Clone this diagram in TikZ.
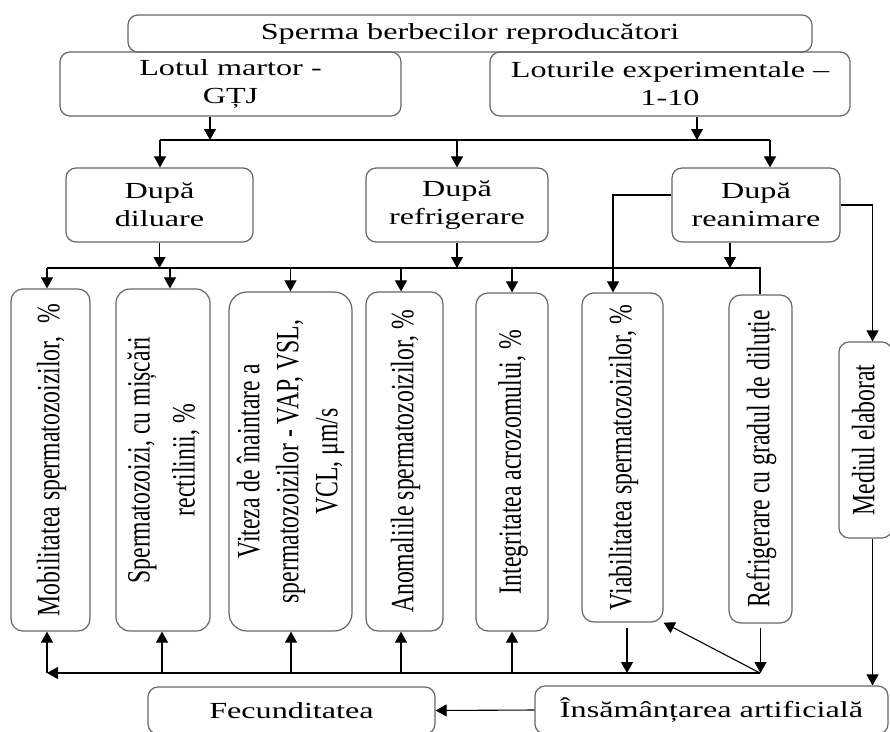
\documentclass[tikz,border=0pt]{standalone}
\usepackage{fontspec}
\usetikzlibrary{arrows.meta}
\newfontfamily\hf[FakeStretch=1.4]{Liberation Serif}
\newfontfamily\vf[FakeStretch=0.73]{Liberation Serif}
\newcommand{\vtext}[2][44]{\rotatebox{90}{\vf\fontsize{32.5}{#1}\selectfont\begin{tabular}{@{}c@{}}#2\end{tabular}}}
\tikzset{
  box/.style={draw=black!60, line width=1.2pt, rounded corners=10pt, inner sep=0pt, align=center,
    font=\hf\fontsize{23}{28}\selectfont},
  conn/.style={line width=1.1pt, black},
  arr/.style={conn, -{Triangle[width=12pt,length=11pt]}},
}
\begin{document}
\begin{tikzpicture}[x=1pt,y=-1pt]
\useasboundingbox (0,0) rectangle (890,731);
% top boxes
\node[box, minimum width=684pt, minimum height=37pt] (top) at (470,33.5) {Sperma berbecilor reproducători};
\node[box, minimum width=341pt, minimum height=64pt] (lm) at (230.5,84) {Lotul martor -\\GȚJ};
\node[box, minimum width=360pt, minimum height=64pt] (le) at (670,84) {Loturile experimentale –\\1-10};
\node[box, minimum width=187pt, minimum height=74pt] (dd) at (159.5,205) {După\\diluare};
\node[box, minimum width=182pt, minimum height=74pt] (dr) at (457,205) {După\\refrigerare};
\node[box, minimum width=168pt, minimum height=74pt] (drea) at (756,205) {După\\reanimare};
% vertical boxes
\node[box, rounded corners=12pt, minimum width=79pt, minimum height=342pt] (v1) at (50.5,460) {\vtext{Mobilitatea spermatozoizilor,\hspace{0.4em}\%}};
\node[box, rounded corners=14pt, minimum width=94pt, minimum height=342pt] (v2) at (163,460) {\vtext[45]{Spermatozoizi, cu mișcări\\rectilinii, \%}};
\node[box, rounded corners=18pt, minimum width=123pt, minimum height=339pt] (v3) at (290.5,461.5) {\vtext[39]{Viteza de înaintare a\\spermatozoizilor - VAP, VSL,\\VCL, μm/s}};
\node[box, rounded corners=12pt, minimum width=77pt, minimum height=339pt] (v4) at (404.5,461.5) {\vtext{Anomaliile spermatozoizilor, \%}};
\node[box, rounded corners=12pt, minimum width=72pt, minimum height=338pt] (v5) at (512,462) {\vtext{Integritatea acrozomului, \%}};
\node[box, rounded corners=12pt, minimum width=81pt, minimum height=329pt] (v6) at (622.5,457.5) {\vtext{Viabilitatea spermatozoizilor, \%}};
\node[box, rounded corners=12pt, minimum width=63pt, minimum height=328pt] (v7) at (760.5,459) {\vtext{Refrigerare cu gradul de diluție}};
\node[box, rounded corners=10pt, minimum width=53pt, minimum height=196pt] (med) at (865.5,440) {\vtext{Mediul elaborat}};
% bottom boxes
\node[box, minimum width=353pt, minimum height=48pt] (ins) at (711.5,710) {Însămânțarea artificială};
\node[box, minimum width=287pt, minimum height=47pt] (fec) at (291.5,710.5) {Fecunditatea};
% bus coordinates
\coordinate (b1a) at (210,140);
\coordinate (b1b) at (697,140);
\coordinate (b1L) at (160,140);
\coordinate (b1R) at (770,140);
\coordinate (b2L) at (47,268);
\coordinate (b2c) at (730,268);
\coordinate (b2R) at (760,268);
\coordinate (b3L) at (47,673);
\coordinate (b3R) at (760,673);
% top connectors
\draw[arr] (lm.south -| b1a) -- (b1a);
\draw[arr] (le.south -| b1b) -- (b1b);
\draw[conn] (b1L) -- (b1R);
\draw[arr] (b1L) -- (dd.north -| b1L);
\draw[arr] (b1L -| dr.north) -- (dr.north);
\draw[arr] (b1R) -- (drea.north -| b1R);
\draw[arr] (dd.south) -- (dd.south |- b2L);
\draw[arr] (dr.south) -- (dr.south |- b2L);
\draw[arr] (drea.south -| b2c) -- (b2c);
\draw[conn] (b2L) -- (b2R) -- (v7.north -| b2R);
\draw[arr] (b2L) -- (v1.north -| b2L);
\draw[arr] ([xshift=7pt]v2.north |- b2L) -- ([xshift=7pt]v2.north);
\draw[arr] (v3.north |- b2L) -- (v3.north);
\draw[arr] ([xshift=-3.5pt]v4.north |- b2L) -- ([xshift=-3.5pt]v4.north);
\draw[arr] (v5.north |- b2L) -- (v5.north);
\draw[arr] ([yshift=10pt]drea.west) -| ([xshift=-9.5pt]v6.north);
\draw[arr] (drea.east) -| ([xshift=7pt]med.north);
\draw[arr] ([xshift=7pt]med.south) -- ([xshift=7pt]med.south |- ins.north);
% bottom connectors
\draw[arr] (b3R) -- (b3L);
\draw[arr] (b3L) -- (v1.south -| b3L);
\draw[arr] ([xshift=-1pt]v2.south |- b3L) -- ([xshift=-1pt]v2.south);
\draw[arr] ([xshift=0.5pt]v3.south |- b3L) -- ([xshift=0.5pt]v3.south);
\draw[arr] ([xshift=-3.5pt]v4.south |- b3L) -- ([xshift=-3.5pt]v4.south);
\draw[arr] (v5.south |- b3L) -- (v5.south);
\draw[arr] ([shift={(4.5pt,-5pt)}]v6.south) -- ([xshift=4.5pt]v6.south |- b3L);
\draw[arr] ([yshift=-4pt]v7.south) -- (v7.south |- b3R);
\draw[arr] (b3R) -- (v6.south east);
\draw[arr] (ins.west) -- (fec.east);
\end{tikzpicture}
\end{document}
